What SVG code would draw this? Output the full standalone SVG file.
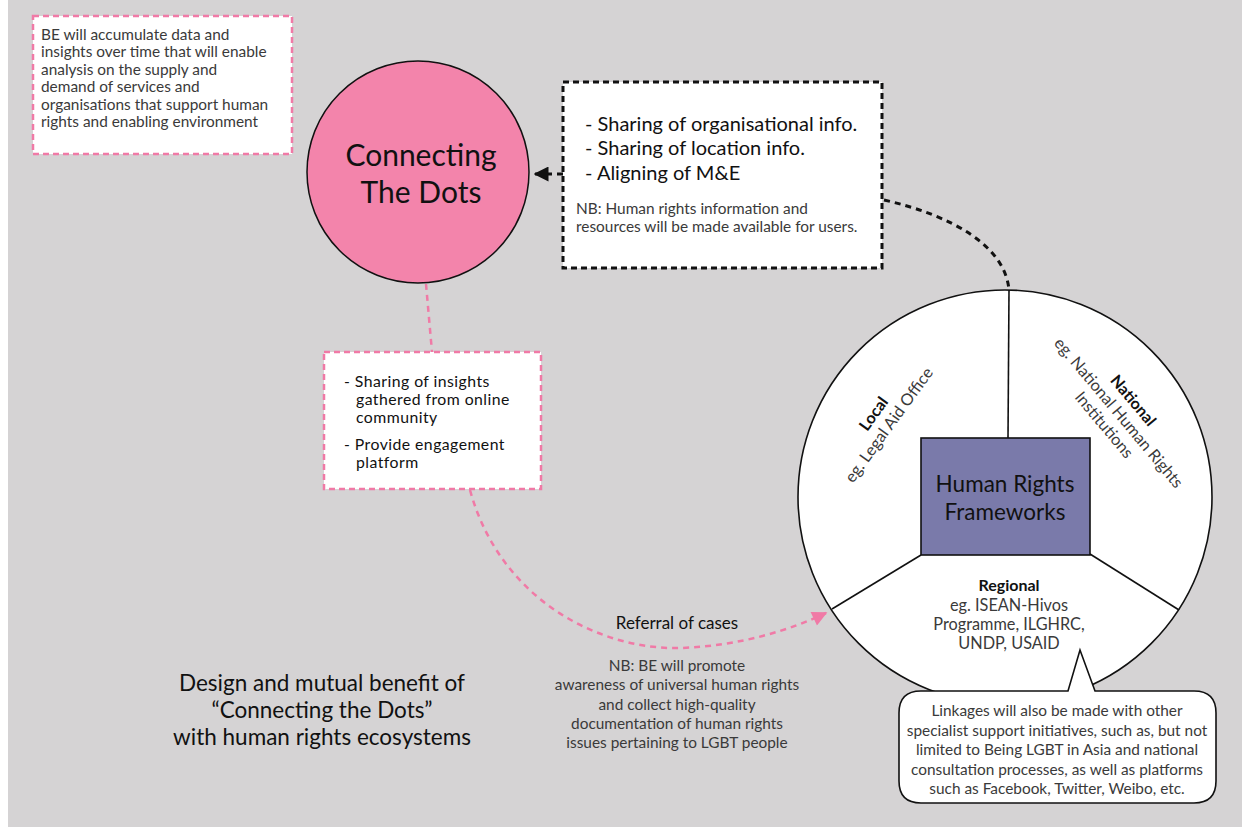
<svg xmlns="http://www.w3.org/2000/svg" width="1242" height="827" viewBox="0 0 1242 827">
<defs>
<style>
text{font-family:Lato,"Open Sans","Liberation Sans",sans-serif;}
.pinkbox{fill:#fff;stroke:#f07aa6;stroke-width:2.5;stroke-dasharray:6 4;}
.blackbox{fill:#fff;stroke:#111;stroke-width:3;stroke-dasharray:6 4;}
.pinkline{fill:none;stroke:#f07aa6;stroke-width:2.5;stroke-dasharray:6 5;}
.blackline{fill:none;stroke:#111;stroke-width:3;stroke-dasharray:6 5;}
.solid{fill:none;stroke:#111;stroke-width:1.6;}
.note{font-size:15.4px;fill:#3a3a3a;}
.body{font-size:15.8px;fill:#111;letter-spacing:0.45px;}
.big{font-size:20px;fill:#111;}
.seg{font-size:16.3px;fill:#3a3a3a;}
.segb{font-size:16px;fill:#111;font-weight:bold;}
</style>
<marker id="ahb" viewBox="0 0 10 10" refX="9" refY="5" markerWidth="5" markerHeight="5" orient="auto-start-reverse" markerUnits="strokeWidth"><path d="M0,0L10,5L0,10z" fill="#111"/></marker>
<marker id="ahp" viewBox="0 0 10 10" refX="9" refY="5" markerWidth="7" markerHeight="6" orient="auto" markerUnits="strokeWidth"><path d="M0,0L10,5L0,10z" fill="#f07aa6"/></marker>
</defs>
<rect x="0" y="0" width="1242" height="827" fill="#d5d3d4"/>
<rect x="0" y="0" width="8" height="827" fill="#ffffff"/>

<g id="connectors">
<path class="blackline" d="M563,174 L535,174" marker-end="url(#ahb)"/>
<path class="blackline" d="M884,200 C950,215 1005,245 1009,290"/>
<path class="pinkline" d="M426,284 L432,352"/>
<path class="pinkline" d="M470,490 C500,600 600,650 680,648 C740,646 790,630 826,613" marker-end="url(#ahp)"/>
</g>

<g id="note-data">
<rect class="pinkbox" x="33" y="16" width="259" height="138"/>
<text class="note"><tspan x="41" y="40">BE will accumulate data and</tspan><tspan x="41" y="57">insights over time that will enable</tspan><tspan x="41" y="75">analysis on the supply and</tspan><tspan x="41" y="92">demand of services and</tspan><tspan x="41" y="110">organisations that support human</tspan><tspan x="41" y="127">rights and enabling environment</tspan></text>
</g>

<g id="connecting-dots">
<circle cx="418" cy="172" r="111" fill="#f384ab" stroke="#111" stroke-width="1.5"/>
<text font-size="30" fill="#111" text-anchor="middle"><tspan x="421" y="166">Connecting</tspan><tspan x="421" y="203">The Dots</tspan></text>
</g>

<g id="sharing-box">
<rect class="blackbox" x="563" y="82" width="319" height="186"/>
<text class="big"><tspan x="585" y="131">- Sharing of organisational info.</tspan><tspan x="585" y="155">- Sharing of location info.</tspan><tspan x="585" y="180">- Aligning of M&amp;E</tspan></text>
<text class="note"><tspan x="576" y="214">NB: Human rights information and</tspan><tspan x="576" y="232">resources will be made available for users.</tspan></text>
</g>

<g id="insights-box">
<rect class="pinkbox" x="324" y="352" width="217" height="137"/>
<text class="body"><tspan x="344" y="387">- Sharing of insights</tspan><tspan x="356" y="405">gathered from online</tspan><tspan x="356" y="423">community</tspan><tspan x="344" y="450">- Provide engagement</tspan><tspan x="356" y="468">platform</tspan></text>
</g>

<g id="hr-circle">
<circle cx="1005" cy="497" r="207" fill="#fff" stroke="#111" stroke-width="1.6"/>
<line class="solid" x1="1009" y1="290" x2="1008" y2="438"/>
<line class="solid" x1="921" y1="555" x2="832" y2="609"/>
<line class="solid" x1="1090" y1="554" x2="1179" y2="610"/>
<text class="seg" text-anchor="middle" transform="translate(878,417) rotate(-54)"><tspan class="segb" x="0" y="0">Local</tspan><tspan x="0" y="19">eg. Legal Aid Office</tspan></text>
<text class="seg" text-anchor="middle" transform="translate(1129,404) rotate(50)"><tspan class="segb" x="0" y="0">National</tspan><tspan x="0" y="19">eg. National Human Rights</tspan><tspan x="0" y="38">Institutions</tspan></text>
<text class="seg" text-anchor="middle"><tspan class="segb" x="1009" y="591">Regional</tspan><tspan x="1009" y="611">eg. ISEAN-Hivos</tspan><tspan x="1009" y="630">Programme, ILGHRC,</tspan><tspan x="1009" y="649">UNDP, USAID</tspan></text>
</g>

<g id="hr-frameworks">
<rect x="921" y="438" width="169" height="117" fill="#7a7aaa" stroke="#111" stroke-width="1.6"/>
<text font-size="22.5" fill="#111" text-anchor="middle"><tspan x="1005" y="492">Human Rights</tspan><tspan x="1005" y="520">Frameworks</tspan></text>
</g>

<g id="linkages-callout">
<path d="M921,691 L1068,691 L1080,650 L1095,691 L1194,691 Q1216,691 1216,713 L1216,781 Q1216,803 1194,803 L921,803 Q899,803 899,781 L899,713 Q899,691 921,691 Z" fill="#fff" stroke="#111" stroke-width="1.6"/>
<text class="note" font-size="14.4" text-anchor="middle"><tspan x="1057" y="716">Linkages will also be made with other</tspan><tspan x="1057" y="736">specialist support initiatives, such as, but not</tspan><tspan x="1057" y="755">limited to Being LGBT in Asia and national</tspan><tspan x="1057" y="775">consultation processes, as well as platforms</tspan><tspan x="1057" y="794">such as Facebook, Twitter, Weibo, etc.</tspan></text>
</g>

<g id="referral-label">
<text font-size="17" fill="#111" text-anchor="middle" x="677" y="629">Referral of cases</text>
<text class="note" font-size="16.3" text-anchor="middle"><tspan x="677" y="671">NB: BE will promote</tspan><tspan x="677" y="690">awareness of universal human rights</tspan><tspan x="677" y="710">and collect high-quality</tspan><tspan x="677" y="729">documentation of human rights</tspan><tspan x="677" y="748">issues pertaining to LGBT people</tspan></text>
</g>

<g id="title">
<text font-size="22.5" fill="#111" text-anchor="middle"><tspan x="322" y="691">Design and mutual benefit of</tspan><tspan x="322" y="718">“Connecting the Dots”</tspan><tspan x="322" y="745">with human rights ecosystems</tspan></text>
</g>
</svg>
